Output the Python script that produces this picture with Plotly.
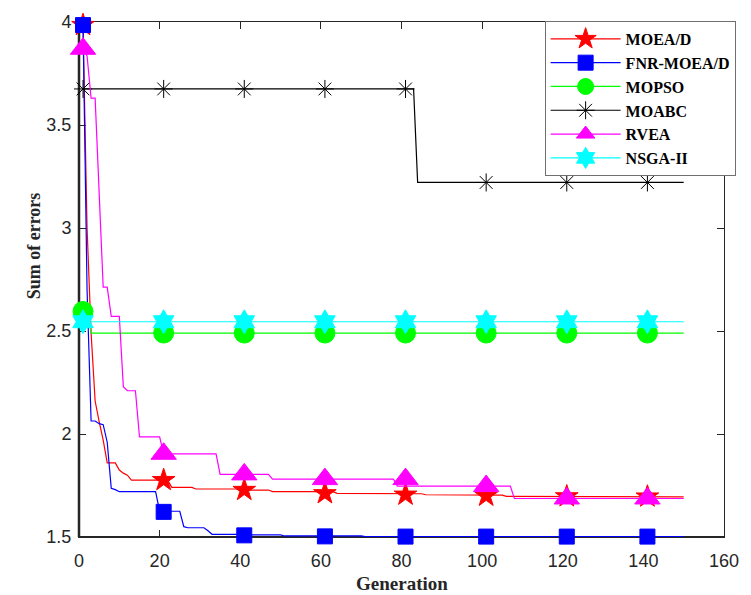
import plotly.graph_objects as go

# ---------------- data ----------------
marker_gens = [1, 21, 41, 61, 81, 101, 121, 141]

moead_x = [1, 2, 3, 4, 5, 6, 7, 9, 10, 11, 12, 13, 22, 23, 28, 29, 39, 40, 47, 48, 63, 64, 85, 86, 105, 106, 150]
moead_y = [3.985, 3.0, 2.49, 2.16, 2.06, 1.97, 1.86, 1.86, 1.825, 1.81, 1.80, 1.776, 1.776, 1.741, 1.741, 1.733,
           1.733, 1.728, 1.728, 1.72, 1.72, 1.712, 1.71, 1.705, 1.703, 1.697, 1.695]
moead_m = [3.985, 1.776, 1.728, 1.712, 1.705, 1.700, 1.697, 1.696]

fnr_x = [1, 2, 3, 4, 5, 6, 7, 8, 9, 10, 19, 20, 25, 26, 27, 31, 32, 33, 40, 41, 50, 51, 70, 71, 150]
fnr_y = [3.985, 2.7, 2.063, 2.063, 2.05, 2.045, 1.96, 1.736, 1.73, 1.72, 1.72, 1.625, 1.625, 1.55, 1.545, 1.545,
         1.53, 1.513, 1.513, 1.51, 1.51, 1.505, 1.505, 1.502, 1.502]
fnr_m = [3.985, 1.622, 1.508, 1.503, 1.502, 1.502, 1.502, 1.502]

mopso_x = [1, 2, 3, 150]
mopso_y = [2.595, 2.595, 2.49, 2.49]
mopso_m = [2.595, 2.49, 2.49, 2.49, 2.49, 2.49, 2.49, 2.49]

moabc_x = [1, 83, 84, 150]
moabc_y = [3.675, 3.675, 3.221, 3.221]
moabc_m = [3.675, 3.675, 3.675, 3.675, 3.675, 3.221, 3.221, 3.221]

rvea_x = [1, 2, 3, 4, 6, 7, 8, 10, 11, 12, 14, 15, 20, 21, 34, 35, 47, 48, 78, 79, 107, 108, 150]
rvea_y = [3.87, 3.835, 3.63, 3.63, 2.713, 2.713, 2.571, 2.571, 2.23, 2.21, 2.21, 1.986, 1.986, 1.904, 1.904,
          1.804, 1.804, 1.781, 1.781, 1.747, 1.747, 1.687, 1.687]
rvea_m = [3.87, 1.904, 1.804, 1.781, 1.781, 1.747, 1.687, 1.687]

nsga_x = [1, 150]
nsga_y = [2.545, 2.545]
nsga_m = [2.545, 2.545, 2.545, 2.545, 2.545, 2.545, 2.545, 2.545]

names = ["MOEA/D", "FNR-MOEA/D", "MOPSO", "MOABC", "RVEA", "NSGA-II"]
x_ticks = [0, 20, 40, 60, 80, 100, 120, 140, 160]
y_ticks = [1.5, 2, 2.5, 3, 3.5, 4]

# ---------------- styles ----------------
styles = [
    dict(color="#ff0000", symbol="star", size=17),
    dict(color="#0000ff", symbol="square", size=15),
    dict(color="#00ff00", symbol="circle", size=20),
    dict(color="#000000", symbol="asterisk-open", size=15),
    dict(color="#ff00ff", symbol="triangle-up", size=22),
    dict(color="#00ffff", symbol="hexagram", size=18),
]
series = [
    (moead_x, moead_y, moead_m),
    (fnr_x, fnr_y, fnr_m),
    (mopso_x, mopso_y, mopso_m),
    (moabc_x, moabc_y, moabc_m),
    (rvea_x, rvea_y, rvea_m),
    (nsga_x, nsga_y, nsga_m),
]

fig = go.Figure()
for name, st, (sx, sy, sm) in zip(names, styles, series):
    fig.add_trace(go.Scatter(x=sx, y=sy, mode="lines", showlegend=False,
                             line=dict(color=st["color"], width=1.2), hoverinfo="skip"))
    fig.add_trace(go.Scatter(x=marker_gens, y=sm, mode="markers", showlegend=False, cliponaxis=False,
                             marker=dict(symbol=st["symbol"], size=st["size"], color=st["color"],
                                         line=dict(color=st["color"], width=1))))
    fig.add_trace(go.Scatter(x=[None], y=[None], mode="lines+markers", name=name,
                             line=dict(color=st["color"], width=1.2),
                             marker=dict(symbol=st["symbol"], size=st["size"], color=st["color"],
                                         line=dict(color=st["color"], width=1))))

axis_common = dict(showgrid=False, zeroline=False, showline=True, linecolor="#262626", linewidth=1,
                   mirror="ticks", ticks="inside", ticklen=7, tickcolor="#262626", tickwidth=1,
                   layer="below traces",
                   tickfont=dict(family="Liberation Sans, Arial", size=18, color="#262626"))

fig.update_layout(
    width=751, height=595,
    margin=dict(l=79, r=16, t=21, b=58),
    paper_bgcolor="white", plot_bgcolor="white",
    xaxis=dict(range=[0, 160], tickvals=x_ticks, ticktext=[str(v) for v in x_ticks],
               ticklabelstandoff=7, **axis_common),
    yaxis=dict(range=[1.5, 4], tickvals=y_ticks, ticktext=[("%g" % v) for v in y_ticks],
               ticklabelstandoff=3, **axis_common),
    legend=dict(x=1.018, y=1.002, xanchor="right", yanchor="top", bgcolor="white",
                bordercolor="#707070", borderwidth=1, itemwidth=70,
                font=dict(family="Liberation Serif, Times New Roman", size=16, color="#000000",
                          weight="bold"),
                tracegroupgap=0),
    showlegend=True,
    shapes=[
        dict(type="line", xref="paper", yref="paper", x0=0, x1=0, y0=0, y1=1, layer="below",
             line=dict(color="#262626", width=2.5)),
        dict(type="line", xref="paper", yref="paper", x0=0, x1=1, y0=0, y1=0, layer="below",
             line=dict(color="#262626", width=2)),
    ],
    annotations=[
        dict(text="<b>Generation</b>", xref="paper", yref="paper", x=0.5, y=-0.091,
             xanchor="center", yanchor="middle", showarrow=False,
             font=dict(family="Liberation Serif, Times New Roman", size=19, color="#262626")),
        dict(text="<b>Sum of errors</b>", xref="paper", yref="paper", x=-0.0701, y=0.566,
             xanchor="center", yanchor="middle", showarrow=False, textangle=-90,
             font=dict(family="Liberation Serif, Times New Roman", size=18, color="#262626")),
    ],
)

fig.write_html("out.html")
